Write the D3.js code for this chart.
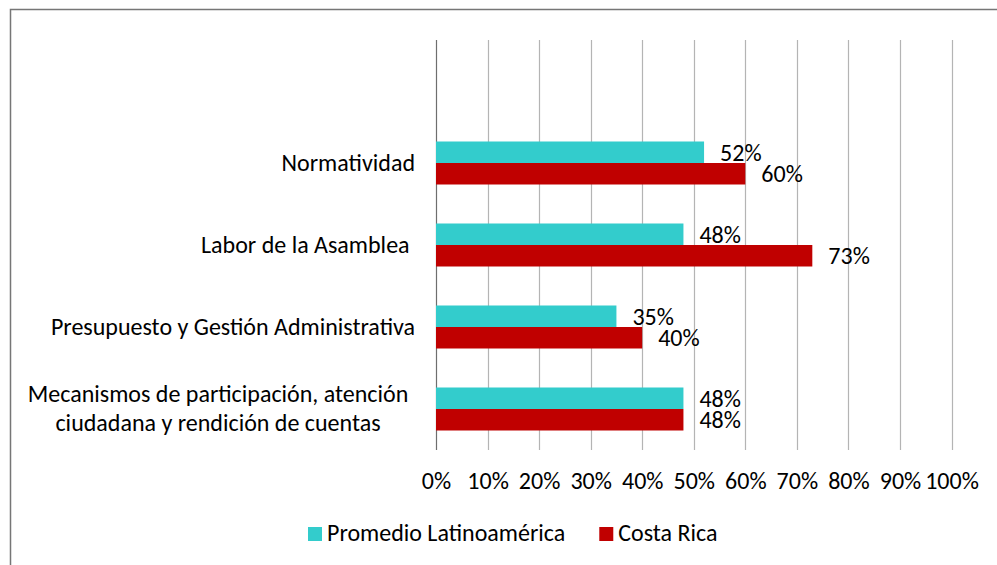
<!DOCTYPE html>
<html>
<head>
<meta charset="utf-8">
<script src="https://cdn.jsdelivr.net/npm/d3@7"></script>
<style>
  body { margin: 0; background: #fff; }
  svg text { font-family: Carlito, Calibri, "Open Sans", sans-serif; fill: #000; }
</style>
</head>
<body>
<div class="chart"></div>
<script>
// data
var categories = ["", "Normatividad", "Labor de la Asamblea ", "Presupuesto y Gestión Administrativa",
                  "Mecanismos de participación, atención|ciudadana y rendición de cuentas"];
var seriesNames = ["Promedio Latinoamérica", "Costa Rica"];
var latam = [null, 52, 48, 35, 48];
var costaRica = [null, 60, 73, 40, 48];
var ticks = [0, 10, 20, 30, 40, 50, 60, 70, 80, 90, 100];

var width = 997;
var height = 565;
var colors = ["#33CCCC", "#C00000"];
var fontFamily = "Carlito, Calibri, 'Open Sans', sans-serif";
var fontSize = 24;

var svg = d3.select(".chart")
            .append("svg")
            .attr("width", width)
            .attr("height", height);

// chart border (right and bottom edges fall outside the picture)
svg.append("path")
   .attr("d", "M10.5," + height + "V9.5H" + width)
   .attr("fill", "none")
   .attr("stroke", "#767676")
   .attr("stroke-width", 1.5);

const xScale = d3.scaleLinear()
                 .domain([0, 100])
                 .range([436, 951.5]);
const yScale = d3.scaleBand()
                 .domain(d3.range(categories.length))
                 .range([40, 450]);
const inner = d3.scaleBand()
                .domain([0, 1])
                .range([0, 43])
                .padding(0);
var barOffset = (yScale.bandwidth() - inner.range()[1]) / 2;

// gridlines
svg.append("g")
   .selectAll("line")
   .data(ticks)
   .enter()
   .append("line")
   .attr("x1", d => Math.round(xScale(d)) + 0.5)
   .attr("x2", d => Math.round(xScale(d)) + 0.5)
   .attr("y1", yScale.range()[0])
   .attr("y2", yScale.range()[1])
   .attr("stroke", (d, i) => i === 0 ? "#6e6e6e" : "#b4b4b4")
   .attr("stroke-width", 1.2);

// x-axis labels
const xAxis = d3.axisBottom(xScale)
                .tickValues(ticks)
                .tickSize(0)
                .tickPadding(0)
                .tickFormat(d => d + "%");
var gx = svg.append("g")
   .attr("id", "x-axis")
   .attr("transform", "translate(0," + 481 + ")")
   .call(xAxis);
gx.select(".domain").remove();
gx.selectAll("text")
  .attr("dy", "0.32em")
  .attr("y", 0)
  .attr("fill", "#000")
  .style("font-size", fontSize + "px")
  .style("font-family", fontFamily);

// bars
var series = [latam, costaRica];
series.forEach((vals, s) => {
  var rows = vals.map((v, i) => ({v: v, i: i})).filter(d => d.v !== null);
  svg.append("g")
     .selectAll("rect")
     .data(rows)
     .enter()
     .append("rect")
     .attr("x", xScale(0))
     .attr("y", d => yScale(d.i) + barOffset + inner(s))
     .attr("width", d => xScale(d.v) - xScale(0))
     .attr("height", inner.bandwidth())
     .attr("fill", colors[s]);

  svg.append("g")
     .selectAll("text")
     .data(rows)
     .enter()
     .append("text")
     .attr("x", d => xScale(d.v) + 16)
     .attr("y", d => yScale(d.i) + barOffset + inner(s) + inner.bandwidth() / 2 + 1)
     .attr("dy", "0.32em")
     .style("font-size", fontSize + "px")
     .text(d => d.v + "%");
});

// category labels
categories.forEach((c, i) => {
  var lines = c.split("|");
  var cy = yScale(i) + yScale.bandwidth() / 2;
  if (lines.length === 1) {
    svg.append("text")
       .attr("x", 415)
       .attr("y", cy)
       .attr("dy", "0.32em")
       .attr("text-anchor", "end")
       .attr("xml:space", "preserve")
       .style("font-size", fontSize + "px")
       .text(c);
  } else {
    var t = svg.append("text")
               .attr("text-anchor", "middle")
               .style("font-size", fontSize + "px");
    lines.forEach((l, k) => {
      t.append("tspan")
       .attr("x", 218)
       .attr("y", cy + (k - (lines.length - 1) / 2) * 29)
       .attr("dy", "0.32em")
       .text(l);
    });
  }
});

// legend: items laid out one after the other
var legend = svg.append("g").attr("id", "legend");
var lx = 308;
seriesNames.forEach((n, i) => {
  legend.append("rect")
        .attr("x", lx)
        .attr("y", 527)
        .attr("width", 14)
        .attr("height", 14)
        .attr("fill", colors[i]);
  var txt = legend.append("text")
        .attr("x", lx + 19)
        .attr("y", 533)
        .attr("dy", "0.32em")
        .style("font-size", fontSize + "px")
        .text(n);
  lx = lx + 19 + txt.node().getComputedTextLength() + 34;
});
</script>
</body>
</html>
